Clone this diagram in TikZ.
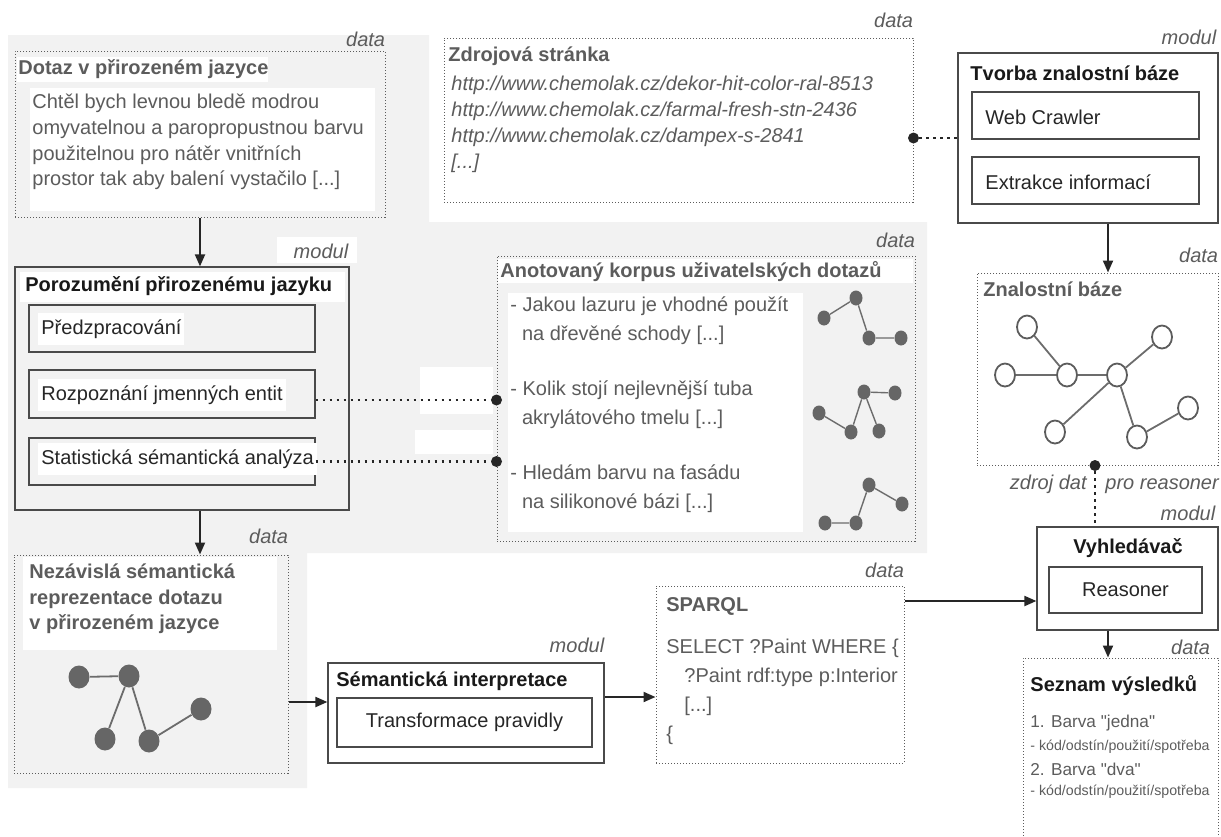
\documentclass[tikz,border=0pt]{standalone}
\usepackage{fontspec}
\setmainfont{Liberation Sans}
\usepackage{tikz}
\usetikzlibrary{arrows.meta, fit, shapes.geometric}
\definecolor{panel}{HTML}{F2F2F2}
\definecolor{ink}{HTML}{5C5C5C}
\definecolor{rim}{HTML}{4A4A4A}
\definecolor{nodegrey}{HTML}{666666}
% straight double quote, kept out of the tex-text mapping
\newcommand\straightdq{\XeTeXglyph\XeTeXcharglyph"22\relax}

\begin{document}
\begin{tikzpicture}[x=0.5pt, y=-0.5pt,
  databox/.style={draw=ink, line width=0.5pt, dash pattern=on 0.6pt off 0.9pt, inner sep=0pt},
  modbox/.style={draw=rim, line width=0.6pt, inner sep=0pt},
  tag/.style={anchor=base east, inner sep=0pt, yshift=4pt, text=ink, font=\itshape},
  head/.style={anchor=west, inner sep=0pt, font=\bfseries, text=black!90},
  dhead/.style={head, text=ink},
  txt/.style={anchor=west, inner sep=0pt, align=left, text=ink, font=\fontsize{10}{13}\selectfont},
  lbl/.style={txt, text=black!85, fill=white, inner xsep=1.5pt, inner ysep=3.5pt},
  flow/.style={-{Triangle[length=6pt,width=5pt]}, line width=1pt, black!85},
  link/.style={line width=1.3pt, dash pattern=on 1.3pt off 2.2pt, black!85},
  dot/.style={circle, fill=black!85, inner sep=0pt, minimum size=5.5pt},
  blob/.style={ellipse, fill=nodegrey, inner sep=0pt, minimum width=6.5pt, minimum height=7.5pt},
  bigblob/.style={blob, minimum width=10.5pt, minimum height=11.5pt},
  ring/.style={ellipse, draw=ink, line width=0.9pt, fill=white, inner sep=0pt, minimum width=10pt, minimum height=11.5pt},
  bond/.style={draw=ink!90, line width=0.7pt}
]
\useasboundingbox (0,0) rectangle (1221,836);

% grey panel behind the query side
\fill[panel] (8,35) -- (429,35) -- (429,222) -- (927,222) -- (927,553)
  -- (307,553) -- (307,788) -- (8,788) -- cycle;
\fill[white] (17,57) rectangle (268,82);
\fill[white] (30,88) rectangle (375,211);
\fill[white] (277,237) rectangle (357,263);
\fill[white] (20,272) rectangle (345,302);
\fill[white] (420,367) rectangle (493,414);
\fill[white] (415,430) rectangle (493,454);
\fill[white] (498,259) rectangle (913,283);
\fill[white] (508,293) rectangle (803,532);
\fill[white] (23,557) rectangle (277,650);

% boxes
\node[databox, fit={(15,51) (385,217)}] (dotaz) {};
\node[modbox, fit={(15,267) (349,510)}] (poroz) {};
\node[modbox, fit={(29,305) (315,352)}] (prep) {};
\node[modbox, fit={(29,370) (315,418)}] (ner) {};
\node[modbox, fit={(29,438) (315,485)}] (ssa) {};
\node[databox, fit={(497,256) (915,541)}] (korpus) {};
\node[databox, fit={(444,38) (913,202)}] (zdroj) {};
\node[modbox, fit={(958,53) (1218,223)}] (tvorba) {};
\node[modbox, fit={(972,92) (1199,139)}] (crawl) {};
\node[modbox, fit={(972,157) (1199,204)}] (extr) {};
\node[databox, fit={(977,273) (1218,465)}] (kb) {};
\node[modbox, fit={(1037,527) (1218,630)}] (hledac) {};
\node[modbox, fit={(1049,567) (1202,613)}] (reas) {};
\node[databox, fit={(1023,658) (1218,850)}] (seznam) {};
\node[databox, fit={(656,586) (904,763)}] (sparql) {};
\node[modbox, fit={(328,663) (604,763)}] (interp) {};
\node[modbox, fit={(337,698) (592,747)}] (transf) {};
\node[databox, fit={(14,555) (288,773)}] (nezav) {};

% data / modul tags
\node[tag, yshift=-2pt] at (dotaz.north east) {data};
\node[tag, xshift=-0.5pt] at (poroz.north east) {modul};
\node[tag] at (korpus.north east) {data};
\node[tag, yshift=1pt] at (zdroj.north east) {data};
\node[tag, xshift=-1pt] at (tvorba.north east) {modul};
\node[tag, yshift=1pt] at (kb.north east) {data};
\node[tag, xshift=-1.5pt, yshift=-1pt] at (hledac.north east) {modul};
\node[tag, xshift=-4pt, yshift=-2.5pt] at (seznam.north east) {data};
\node[tag] at (sparql.north east) {data};
\node[tag, yshift=1pt] at (interp.north east) {modul};
\node[tag, yshift=1.5pt] at (nezav.north east) {data};

% texts
\node[dhead] at (18,69) {Dotaz v přirozeném jazyce};
\node[txt, font=\fontsize{10}{12.85}\selectfont] at (32,142)
  {Chtěl bych levnou bledě modrou\\omyvatelnou a paropropustnou barvu\\použitelnou pro nátěr vnitřních\\prostor tak aby balení vystačilo [...]};
\node[head] at (25,286) {Porozumění přirozenému jazyku};
\node[lbl] at (38,329) {Předzpracování};
\node[lbl] at (38,395) {Rozpoznání jmenných entit};
\node[lbl] at (38,459) {Statistická sémantická analýza};

\node[dhead] at (500,272) {Anotovaný korpus uživatelských dotazů};
\node[txt, font=\fontsize{10}{14.5}\selectfont] at (510,321) {- Jakou lazuru je vhodné použít\\\hspace*{5.8pt}na dřevěné schody [...]};
\node[txt, font=\fontsize{10}{14.5}\selectfont] at (510,405) {- Kolik stojí nejlevnější tuba\\\hspace*{5.8pt}akrylátového tmelu [...]};
\node[txt, font=\fontsize{10}{14.5}\selectfont] at (510,489) {- Hledám barvu na fasádu\\\hspace*{5.8pt}na silikonové bázi [...]};

\node[dhead] at (448,56) {Zdrojová stránka};
\node[txt, font=\itshape\fontsize{10}{13}\selectfont] at (451,124)
  {http://www.chemolak.cz/dekor-hit-color-ral-8513\\http://www.chemolak.cz/farmal-fresh-stn-2436\\http://www.chemolak.cz/dampex-s-2841\\{}[...]};

\node[head] at (970,73) {Tvorba znalostní báze};
\node[txt, text=black!85] at (985,117) {Web Crawler};
\node[txt, text=black!85] at (985,182) {Extrakce informací};

\node[dhead] at (983,289) {Znalostní báze};
\node[head, anchor=center] at (1128,548) {Vyhledávač};
\node[text=black!85, inner sep=0pt] at (reas.center) {Reasoner};

\node[head] at (1030,686) {Seznam výsledků};
\node[txt, font=\fontsize{8.6}{10}\selectfont] at (1030,723) {1. Barva \straightdq jedna\straightdq};
\node[txt, font=\fontsize{7.1}{9}\selectfont] at (1030,747) {- kód/odstín/použití/spotřeba};
\node[txt, font=\fontsize{8.6}{10}\selectfont] at (1030,769) {2. Barva \straightdq dva\straightdq};
\node[txt, font=\fontsize{7.1}{9}\selectfont] at (1030,792) {- kód/odstín/použití/spotřeba};

\node[dhead] at (666,606) {SPARQL};
\node[txt, font=\fontsize{10}{14.5}\selectfont] at (666,692)
  {SELECT ?Paint WHERE \{\\\hspace*{9pt}?Paint rdf:type p:Interior\\\hspace*{9pt}[...]\\\{};

\node[head] at (336,681) {Sémantická interpretace};
\node[text=black!85, inner sep=0pt] at (transf.center) {Transformace pravidly};

\node[dhead, align=left, font=\bfseries\fontsize{10}{12.75}\selectfont] at (29,599)
  {Nezávislá sémantická\\reprezentace dotazu\\v přirozeném jazyce};

\node[txt, anchor=base east, font=\itshape] at (1087,489) {zdroj dat};
\node[txt, anchor=base west, font=\itshape] at (1105,489) {pro reasoner};

% flow arrows
\coordinate (spine) at (200,0);
\coordinate (rowA) at (0,702);
\coordinate (rowB) at (0,697);
\coordinate (rowC) at (0,601);
\coordinate (colR) at (1108,0);
\draw[flow] (dotaz.south -| spine) -- (poroz.north -| spine);
\draw[flow] (poroz.south -| spine) -- (nezav.north -| spine);
\draw[flow] (nezav.east |- rowA) -- (interp.west |- rowA);
\draw[flow] (interp.east |- rowB) -- (sparql.west |- rowB);
\draw[flow] (sparql.east |- rowC) -- (hledac.west |- rowC);
\draw[flow] (tvorba.south -| colR) -- (kb.north -| colR);
\draw[flow] (hledac.south -| colR) -- (seznam.north -| colR);

% dotted links
\coordinate (nerout) at ([yshift=-3pt]ner.east);
\node[dot] (zdrojdot) at (zdroj.east |- tvorba.west) {};
\draw[link] (zdrojdot) -- (tvorba.west);
\node[dot] (nerdot) at (korpus.west |- nerout) {};
\draw[link] (nerout) -- (nerdot);
\node[dot] (ssadot) at (korpus.west |- ssa.east) {};
\draw[link] (ssa.east) -- (ssadot);
\coordinate (kbtap) at (1095,0);
\node[dot] (kbdot) at (kb.south -| kbtap) {};
\draw[link] (kbdot) -- (kbdot |- hledac.north);

% small query graphs in the corpus
\foreach \n/\x/\y in {a1/824/318, a2/856/298, a3/869/338, a4/901/338,
                      b1/819/413, b2/851/432, b3/864/392, b4/895/393, b5/879/431,
                      c1/825/523, c2/856/523, c3/869/485, c4/902/504}
  \node[blob] (\n) at (\x,\y) {};
\draw[bond] (a1) -- (a2) -- (a3) -- (a4);
\draw[bond] (b1) -- (b2) -- (b3) -- (b4) (b3) -- (b5);
\draw[bond] (c1) -- (c2) -- (c3) -- (c4);

% query graph
\foreach \n/\x/\y in {q1/79/677, q2/129/676, q3/105/739, q4/149/741, q5/201/709}
  \node[bigblob] (\n) at (\x,\y) {};
\draw[bond, line width=0.9pt] (q1) -- (q2) -- (q3) (q2) -- (q4) -- (q5);

% knowledge base graph
\foreach \n/\x/\y in {k1/1027/327, k2/1005/375, k3/1067/375, k4/1117/375,
                      k5/1162/337, k6/1055/432, k7/1137/437, k8/1188/408}
  \node[ring] (\n) at (\x,\y) {};
\draw[bond, line width=0.9pt] (k1) -- (k3) (k2) -- (k3) -- (k4) -- (k5)
  (k4) -- (k6) (k4) -- (k7) -- (k8);
\end{tikzpicture}
\end{document}
